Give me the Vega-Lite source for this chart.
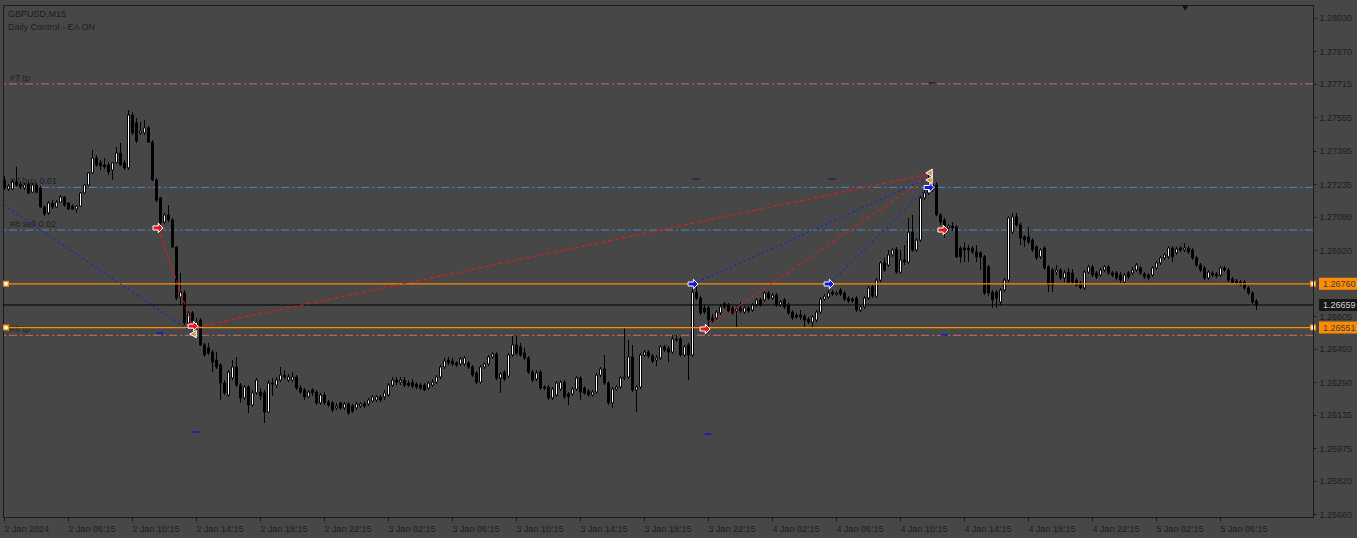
{
"$schema":"https://vega.github.io/schema/vega-lite/v6.json",
"width":1310,"height":512,
"autosize":{"type":"none"},
"padding":{"left":3,"top":5,"right":44,"bottom":21},
"background":"#474747",
"config":{"view":{"stroke":"#1c1c1c","strokeWidth":1},"font":"Liberation Sans","axis":{"labelFont":"Liberation Sans","labelFontSize":9,"labelColor":"#1e1e1e","domainColor":"#1c1c1c","tickColor":"#1c1c1c","grid":false}},
"datasets":{
"levels":[
{"name":"#7 tp","kind":"tp","p":1.27715},
{"name":"#7 buy 0.01","kind":"order","p":1.27221},
{"name":"#8 sell 0.02","kind":"order","p":1.27017},
{"name":"#8 tp","kind":"tp","p":1.26514},
{"name":"pending 1","kind":"pending","p":1.2676},
{"name":"pending 2","kind":"pending","p":1.26551},
{"name":"Bid","kind":"bid","p":1.26659}],
"trades":[
{"trade":"A","side":"buy","t":"2024-01-02T02:15","p":1.27136},
{"trade":"A","side":"buy","t":"2024-01-02T14:04","p":1.26525},
{"trade":"B","side":"sell","t":"2024-01-02T11:52:30","p":1.27027},
{"trade":"B","side":"sell","t":"2024-01-02T14:04","p":1.26549},
{"trade":"C","side":"sell","t":"2024-01-02T14:19","p":1.26554},
{"trade":"C","side":"sell","t":"2024-01-04T12:04","p":1.27285},
{"trade":"D","side":"buy","t":"2024-01-03T21:19","p":1.26759},
{"trade":"D","side":"buy","t":"2024-01-04T12:04","p":1.27266},
{"trade":"E","side":"sell","t":"2024-01-03T22:04","p":1.26544},
{"trade":"E","side":"sell","t":"2024-01-04T12:04","p":1.27275},
{"trade":"F","side":"buy","t":"2024-01-04T05:49","p":1.26759},
{"trade":"F","side":"buy","t":"2024-01-04T12:04","p":1.27227}],
"marks":[
{"t":"2024-01-02T11:52:30","p":1.27027,"kind":"sell"},
{"t":"2024-01-02T14:04","p":1.26558,"kind":"sell"},
{"t":"2024-01-03T21:19","p":1.26759,"kind":"buy"},
{"t":"2024-01-03T22:04","p":1.26544,"kind":"sell"},
{"t":"2024-01-04T05:49","p":1.26759,"kind":"buy"},
{"t":"2024-01-04T12:04","p":1.2722,"kind":"buy"},
{"t":"2024-01-04T12:56","p":1.27017,"kind":"sell"},
{"t":"2024-01-02T14:04","p":1.2652,"kind":"close"},
{"t":"2024-01-04T12:04","p":1.2729,"kind":"close"},
{"t":"2024-01-04T12:04","p":1.27256,"kind":"close"}],
"dashes":[
{"t":"2024-01-02T12:00","p":1.26525,"kind":"blue"},
{"t":"2024-01-02T14:15","p":1.26052,"kind":"blue"},
{"t":"2024-01-03T22:15","p":1.26042,"kind":"blue"},
{"t":"2024-01-04T13:00","p":1.26515,"kind":"blue"},
{"t":"2024-01-03T21:30","p":1.27261,"kind":"dark"},
{"t":"2024-01-04T06:00","p":1.27261,"kind":"dark"},
{"t":"2024-01-04T12:15","p":1.27719,"kind":"dark"}],
"candles":[
{"t":"2024-01-02T02:15","o":1.27256,"h":1.27275,"l":1.27208,"c":1.27218},
{"t":"2024-01-02T02:30","o":1.27213,"h":1.27237,"l":1.27203,"c":1.27227},
{"t":"2024-01-02T02:45","o":1.27213,"h":1.27256,"l":1.27208,"c":1.27246},
{"t":"2024-01-02T03:00","o":1.27246,"h":1.27319,"l":1.27223,"c":1.27232},
{"t":"2024-01-02T03:15","o":1.27237,"h":1.27251,"l":1.27213,"c":1.27223},
{"t":"2024-01-02T03:30","o":1.27218,"h":1.27242,"l":1.27208,"c":1.27232},
{"t":"2024-01-02T03:45","o":1.27237,"h":1.27246,"l":1.27189,"c":1.27194},
{"t":"2024-01-02T04:00","o":1.27198,"h":1.27242,"l":1.27194,"c":1.27232},
{"t":"2024-01-02T04:15","o":1.27232,"h":1.27242,"l":1.27194,"c":1.27198},
{"t":"2024-01-02T04:30","o":1.27218,"h":1.27227,"l":1.27122,"c":1.27127},
{"t":"2024-01-02T04:45","o":1.27127,"h":1.27136,"l":1.27084,"c":1.27094},
{"t":"2024-01-02T05:00","o":1.27099,"h":1.27155,"l":1.27089,"c":1.27146},
{"t":"2024-01-02T05:15","o":1.27146,"h":1.2716,"l":1.27117,"c":1.27127},
{"t":"2024-01-02T05:30","o":1.27127,"h":1.2716,"l":1.27122,"c":1.2715},
{"t":"2024-01-02T05:45","o":1.2715,"h":1.27184,"l":1.27146,"c":1.27175},
{"t":"2024-01-02T06:00","o":1.27175,"h":1.27179,"l":1.27127,"c":1.27136},
{"t":"2024-01-02T06:15","o":1.27146,"h":1.2715,"l":1.27113,"c":1.27117},
{"t":"2024-01-02T06:30","o":1.27131,"h":1.27141,"l":1.27113,"c":1.27117},
{"t":"2024-01-02T06:45","o":1.27117,"h":1.27136,"l":1.27099,"c":1.27131},
{"t":"2024-01-02T07:00","o":1.27131,"h":1.27198,"l":1.27127,"c":1.27194},
{"t":"2024-01-02T07:15","o":1.27194,"h":1.27237,"l":1.27189,"c":1.27232},
{"t":"2024-01-02T07:30","o":1.27232,"h":1.27294,"l":1.27227,"c":1.2729},
{"t":"2024-01-02T07:45","o":1.2729,"h":1.27399,"l":1.27285,"c":1.27361},
{"t":"2024-01-02T08:00","o":1.27361,"h":1.27375,"l":1.27319,"c":1.27328},
{"t":"2024-01-02T08:15","o":1.27338,"h":1.27352,"l":1.27304,"c":1.27323},
{"t":"2024-01-02T08:30","o":1.27328,"h":1.27361,"l":1.27309,"c":1.27319},
{"t":"2024-01-02T08:45","o":1.27328,"h":1.27342,"l":1.2728,"c":1.27294},
{"t":"2024-01-02T09:00","o":1.27304,"h":1.27342,"l":1.27256,"c":1.27338},
{"t":"2024-01-02T09:15","o":1.27338,"h":1.27414,"l":1.27333,"c":1.27385},
{"t":"2024-01-02T09:30","o":1.27385,"h":1.27433,"l":1.27323,"c":1.27328},
{"t":"2024-01-02T09:45","o":1.27338,"h":1.27352,"l":1.27304,"c":1.27314},
{"t":"2024-01-02T10:00","o":1.27314,"h":1.2759,"l":1.27304,"c":1.27566},
{"t":"2024-01-02T10:15","o":1.27566,"h":1.2758,"l":1.27471,"c":1.27481},
{"t":"2024-01-02T10:30","o":1.27529,"h":1.27552,"l":1.27433,"c":1.27442},
{"t":"2024-01-02T10:45","o":1.27481,"h":1.27533,"l":1.27471,"c":1.2749},
{"t":"2024-01-02T11:00","o":1.27481,"h":1.27543,"l":1.27471,"c":1.27505},
{"t":"2024-01-02T11:15","o":1.27505,"h":1.27514,"l":1.27433,"c":1.27437},
{"t":"2024-01-02T11:30","o":1.27437,"h":1.27447,"l":1.27251,"c":1.27256},
{"t":"2024-01-02T11:45","o":1.27256,"h":1.27266,"l":1.2715,"c":1.2716},
{"t":"2024-01-02T12:00","o":1.2717,"h":1.27175,"l":1.27041,"c":1.27051},
{"t":"2024-01-02T12:15","o":1.27055,"h":1.27099,"l":1.27046,"c":1.27089},
{"t":"2024-01-02T12:30","o":1.27089,"h":1.27136,"l":1.27055,"c":1.27065},
{"t":"2024-01-02T12:45","o":1.27065,"h":1.27075,"l":1.26931,"c":1.26936},
{"t":"2024-01-02T13:00","o":1.26936,"h":1.2694,"l":1.26683,"c":1.26692},
{"t":"2024-01-02T13:15","o":1.26697,"h":1.26812,"l":1.26659,"c":1.2672},
{"t":"2024-01-02T13:30","o":1.26716,"h":1.2673,"l":1.26563,"c":1.26573},
{"t":"2024-01-02T13:45","o":1.26573,"h":1.2663,"l":1.26563,"c":1.26621},
{"t":"2024-01-02T14:00","o":1.26621,"h":1.2663,"l":1.26539,"c":1.26554},
{"t":"2024-01-02T14:15","o":1.26554,"h":1.26597,"l":1.26544,"c":1.26577},
{"t":"2024-01-02T14:30","o":1.26587,"h":1.26597,"l":1.26463,"c":1.26468},
{"t":"2024-01-02T14:45","o":1.26468,"h":1.26478,"l":1.26411,"c":1.2642},
{"t":"2024-01-02T15:00","o":1.26454,"h":1.26478,"l":1.2642,"c":1.2643},
{"t":"2024-01-02T15:15","o":1.26434,"h":1.26444,"l":1.26338,"c":1.26386},
{"t":"2024-01-02T15:30","o":1.26396,"h":1.26434,"l":1.26353,"c":1.26363},
{"t":"2024-01-02T15:45","o":1.26372,"h":1.26382,"l":1.26205,"c":1.26286},
{"t":"2024-01-02T16:00","o":1.26286,"h":1.263,"l":1.26229,"c":1.26239},
{"t":"2024-01-02T16:15","o":1.26229,"h":1.26348,"l":1.2622,"c":1.26338},
{"t":"2024-01-02T16:30","o":1.2631,"h":1.26396,"l":1.263,"c":1.26363},
{"t":"2024-01-02T16:45","o":1.26363,"h":1.26411,"l":1.26267,"c":1.26276},
{"t":"2024-01-02T17:00","o":1.26276,"h":1.26286,"l":1.26191,"c":1.26215},
{"t":"2024-01-02T17:15","o":1.26215,"h":1.26276,"l":1.26205,"c":1.26267},
{"t":"2024-01-02T17:30","o":1.26267,"h":1.26276,"l":1.26143,"c":1.26181},
{"t":"2024-01-02T17:45","o":1.26181,"h":1.26253,"l":1.26172,"c":1.26239},
{"t":"2024-01-02T18:00","o":1.26239,"h":1.2631,"l":1.26229,"c":1.263},
{"t":"2024-01-02T18:15","o":1.26243,"h":1.26262,"l":1.26205,"c":1.26224},
{"t":"2024-01-02T18:30","o":1.26239,"h":1.26253,"l":1.26095,"c":1.26147},
{"t":"2024-01-02T18:45","o":1.26147,"h":1.263,"l":1.26143,"c":1.26286},
{"t":"2024-01-02T19:00","o":1.26286,"h":1.2631,"l":1.26224,"c":1.26281},
{"t":"2024-01-02T19:15","o":1.26276,"h":1.26315,"l":1.26262,"c":1.263},
{"t":"2024-01-02T19:30","o":1.263,"h":1.26363,"l":1.2629,"c":1.26324},
{"t":"2024-01-02T19:45","o":1.26324,"h":1.26348,"l":1.26305,"c":1.26315},
{"t":"2024-01-02T20:00","o":1.263,"h":1.26329,"l":1.2629,"c":1.26315},
{"t":"2024-01-02T20:15","o":1.263,"h":1.26338,"l":1.2629,"c":1.26315},
{"t":"2024-01-02T20:30","o":1.26315,"h":1.26324,"l":1.26253,"c":1.26262},
{"t":"2024-01-02T20:45","o":1.26262,"h":1.26276,"l":1.26234,"c":1.26243},
{"t":"2024-01-02T21:00","o":1.26253,"h":1.26262,"l":1.26205,"c":1.2622},
{"t":"2024-01-02T21:15","o":1.2622,"h":1.26253,"l":1.26215,"c":1.26243},
{"t":"2024-01-02T21:30","o":1.26253,"h":1.26262,"l":1.26224,"c":1.26239},
{"t":"2024-01-02T21:45","o":1.26243,"h":1.26253,"l":1.26181,"c":1.26191},
{"t":"2024-01-02T22:00","o":1.26191,"h":1.26239,"l":1.26181,"c":1.26229},
{"t":"2024-01-02T22:15","o":1.26229,"h":1.26243,"l":1.26181,"c":1.26191},
{"t":"2024-01-02T22:30","o":1.26195,"h":1.26205,"l":1.26172,"c":1.26181},
{"t":"2024-01-02T22:45","o":1.26191,"h":1.262,"l":1.26147,"c":1.26157},
{"t":"2024-01-02T23:00","o":1.26167,"h":1.26191,"l":1.26157,"c":1.26176},
{"t":"2024-01-02T23:15","o":1.26191,"h":1.26195,"l":1.26157,"c":1.26167},
{"t":"2024-01-02T23:30","o":1.26167,"h":1.26195,"l":1.26157,"c":1.26186},
{"t":"2024-01-02T23:45","o":1.26186,"h":1.26195,"l":1.26133,"c":1.26143},
{"t":"2024-01-03T00:00","o":1.26176,"h":1.26186,"l":1.26143,"c":1.26152},
{"t":"2024-01-03T00:15","o":1.26167,"h":1.26195,"l":1.26157,"c":1.26186},
{"t":"2024-01-03T00:30","o":1.26176,"h":1.26195,"l":1.26167,"c":1.26186},
{"t":"2024-01-03T00:45","o":1.26186,"h":1.262,"l":1.26167,"c":1.26176},
{"t":"2024-01-03T01:00","o":1.26186,"h":1.26215,"l":1.26176,"c":1.26205},
{"t":"2024-01-03T01:15","o":1.262,"h":1.26229,"l":1.26191,"c":1.2622},
{"t":"2024-01-03T01:30","o":1.26205,"h":1.26229,"l":1.26195,"c":1.2622},
{"t":"2024-01-03T01:45","o":1.2622,"h":1.26229,"l":1.26195,"c":1.26205},
{"t":"2024-01-03T02:00","o":1.2622,"h":1.26253,"l":1.26205,"c":1.26239},
{"t":"2024-01-03T02:15","o":1.26229,"h":1.26286,"l":1.2622,"c":1.26276},
{"t":"2024-01-03T02:30","o":1.26276,"h":1.26315,"l":1.26267,"c":1.263},
{"t":"2024-01-03T02:45","o":1.263,"h":1.26315,"l":1.26276,"c":1.2629},
{"t":"2024-01-03T03:00","o":1.2629,"h":1.26315,"l":1.26276,"c":1.263},
{"t":"2024-01-03T03:15","o":1.263,"h":1.26315,"l":1.26267,"c":1.26276},
{"t":"2024-01-03T03:30","o":1.26286,"h":1.263,"l":1.26267,"c":1.26276},
{"t":"2024-01-03T03:45","o":1.2629,"h":1.26305,"l":1.26262,"c":1.26271},
{"t":"2024-01-03T04:00","o":1.26281,"h":1.2629,"l":1.26257,"c":1.26267},
{"t":"2024-01-03T04:15","o":1.26276,"h":1.26286,"l":1.26253,"c":1.26262},
{"t":"2024-01-03T04:30","o":1.26276,"h":1.26286,"l":1.26248,"c":1.26253},
{"t":"2024-01-03T04:45","o":1.26262,"h":1.26295,"l":1.26253,"c":1.26286},
{"t":"2024-01-03T05:00","o":1.26276,"h":1.26305,"l":1.26267,"c":1.2629},
{"t":"2024-01-03T05:15","o":1.2629,"h":1.26324,"l":1.26281,"c":1.26315},
{"t":"2024-01-03T05:30","o":1.26315,"h":1.26372,"l":1.26305,"c":1.26363},
{"t":"2024-01-03T05:45","o":1.26363,"h":1.26406,"l":1.26353,"c":1.26391},
{"t":"2024-01-03T06:00","o":1.26396,"h":1.26411,"l":1.26372,"c":1.26382},
{"t":"2024-01-03T06:15","o":1.26391,"h":1.26406,"l":1.26367,"c":1.26377},
{"t":"2024-01-03T06:30","o":1.26382,"h":1.26391,"l":1.26363,"c":1.26372},
{"t":"2024-01-03T06:45","o":1.26377,"h":1.26411,"l":1.26367,"c":1.26401},
{"t":"2024-01-03T07:00","o":1.26377,"h":1.26415,"l":1.26367,"c":1.26406},
{"t":"2024-01-03T07:15","o":1.26382,"h":1.26391,"l":1.26353,"c":1.26363},
{"t":"2024-01-03T07:30","o":1.26363,"h":1.26372,"l":1.26315,"c":1.26324},
{"t":"2024-01-03T07:45","o":1.26334,"h":1.26343,"l":1.26281,"c":1.2629},
{"t":"2024-01-03T08:00","o":1.2629,"h":1.26372,"l":1.26281,"c":1.26363},
{"t":"2024-01-03T08:15","o":1.26363,"h":1.26386,"l":1.26353,"c":1.26377},
{"t":"2024-01-03T08:30","o":1.26377,"h":1.2642,"l":1.26367,"c":1.26411},
{"t":"2024-01-03T08:45","o":1.26411,"h":1.26434,"l":1.26401,"c":1.26425},
{"t":"2024-01-03T09:00","o":1.26425,"h":1.26434,"l":1.263,"c":1.2631},
{"t":"2024-01-03T09:15","o":1.2631,"h":1.26338,"l":1.26239,"c":1.26329},
{"t":"2024-01-03T09:30","o":1.26338,"h":1.26348,"l":1.26295,"c":1.26305},
{"t":"2024-01-03T09:45","o":1.26319,"h":1.2643,"l":1.2631,"c":1.2642},
{"t":"2024-01-03T10:00","o":1.2642,"h":1.2651,"l":1.26411,"c":1.26468},
{"t":"2024-01-03T10:15","o":1.26468,"h":1.26515,"l":1.2642,"c":1.2643},
{"t":"2024-01-03T10:30","o":1.26459,"h":1.26478,"l":1.26411,"c":1.2642},
{"t":"2024-01-03T10:45","o":1.2643,"h":1.26454,"l":1.26396,"c":1.26406},
{"t":"2024-01-03T11:00","o":1.26406,"h":1.26415,"l":1.26329,"c":1.26338},
{"t":"2024-01-03T11:15","o":1.26338,"h":1.26348,"l":1.2629,"c":1.263},
{"t":"2024-01-03T11:30","o":1.26305,"h":1.26348,"l":1.26295,"c":1.26334},
{"t":"2024-01-03T11:45","o":1.26338,"h":1.26348,"l":1.26253,"c":1.26262},
{"t":"2024-01-03T12:00","o":1.26267,"h":1.26276,"l":1.26253,"c":1.26262},
{"t":"2024-01-03T12:15","o":1.26267,"h":1.26276,"l":1.26205,"c":1.26215},
{"t":"2024-01-03T12:30","o":1.26215,"h":1.26267,"l":1.26205,"c":1.26257},
{"t":"2024-01-03T12:45","o":1.26229,"h":1.26295,"l":1.2622,"c":1.26286},
{"t":"2024-01-03T13:00","o":1.26257,"h":1.263,"l":1.26248,"c":1.2629},
{"t":"2024-01-03T13:15","o":1.2629,"h":1.263,"l":1.2621,"c":1.2622},
{"t":"2024-01-03T13:30","o":1.26234,"h":1.26243,"l":1.26181,"c":1.2622},
{"t":"2024-01-03T13:45","o":1.26234,"h":1.26267,"l":1.26224,"c":1.26257},
{"t":"2024-01-03T14:00","o":1.26257,"h":1.26319,"l":1.26248,"c":1.2631},
{"t":"2024-01-03T14:15","o":1.2631,"h":1.26319,"l":1.26205,"c":1.26243},
{"t":"2024-01-03T14:30","o":1.26262,"h":1.26271,"l":1.26229,"c":1.26239},
{"t":"2024-01-03T14:45","o":1.26248,"h":1.26257,"l":1.2622,"c":1.26229},
{"t":"2024-01-03T15:00","o":1.26229,"h":1.26253,"l":1.2622,"c":1.26243},
{"t":"2024-01-03T15:15","o":1.26243,"h":1.26334,"l":1.26234,"c":1.26324},
{"t":"2024-01-03T15:30","o":1.26324,"h":1.26363,"l":1.26315,"c":1.26353},
{"t":"2024-01-03T15:45","o":1.26353,"h":1.2642,"l":1.26276,"c":1.26286},
{"t":"2024-01-03T16:00","o":1.26286,"h":1.26295,"l":1.26181,"c":1.26191},
{"t":"2024-01-03T16:15","o":1.26191,"h":1.26267,"l":1.26167,"c":1.26257},
{"t":"2024-01-03T16:30","o":1.26257,"h":1.26276,"l":1.26248,"c":1.26267},
{"t":"2024-01-03T16:45","o":1.26267,"h":1.26319,"l":1.26257,"c":1.2631},
{"t":"2024-01-03T17:00","o":1.2631,"h":1.26554,"l":1.263,"c":1.26315},
{"t":"2024-01-03T17:15","o":1.26315,"h":1.26492,"l":1.26305,"c":1.26411},
{"t":"2024-01-03T17:30","o":1.26411,"h":1.26468,"l":1.26243,"c":1.26253},
{"t":"2024-01-03T17:45","o":1.26253,"h":1.26276,"l":1.26147,"c":1.26267},
{"t":"2024-01-03T18:00","o":1.26267,"h":1.2643,"l":1.26257,"c":1.2642},
{"t":"2024-01-03T18:15","o":1.2642,"h":1.26444,"l":1.26411,"c":1.26434},
{"t":"2024-01-03T18:30","o":1.26434,"h":1.26444,"l":1.26406,"c":1.26415},
{"t":"2024-01-03T18:45","o":1.26415,"h":1.26425,"l":1.26382,"c":1.26391},
{"t":"2024-01-03T19:00","o":1.26396,"h":1.2642,"l":1.26367,"c":1.26406},
{"t":"2024-01-03T19:15","o":1.26406,"h":1.26468,"l":1.26396,"c":1.26459},
{"t":"2024-01-03T19:30","o":1.26459,"h":1.26468,"l":1.26434,"c":1.26444},
{"t":"2024-01-03T19:45","o":1.26449,"h":1.26463,"l":1.26386,"c":1.26434},
{"t":"2024-01-03T20:00","o":1.26434,"h":1.26515,"l":1.26425,"c":1.26496},
{"t":"2024-01-03T20:15","o":1.26496,"h":1.26515,"l":1.26482,"c":1.26492},
{"t":"2024-01-03T20:30","o":1.26496,"h":1.26506,"l":1.26411,"c":1.2642},
{"t":"2024-01-03T20:45","o":1.2642,"h":1.26468,"l":1.26411,"c":1.26459},
{"t":"2024-01-03T21:00","o":1.26468,"h":1.26478,"l":1.263,"c":1.2642},
{"t":"2024-01-03T21:15","o":1.2642,"h":1.26745,"l":1.26411,"c":1.2672},
{"t":"2024-01-03T21:30","o":1.2672,"h":1.26745,"l":1.26683,"c":1.26692},
{"t":"2024-01-03T21:45","o":1.26692,"h":1.26701,"l":1.26611,"c":1.26621},
{"t":"2024-01-03T22:00","o":1.26645,"h":1.26659,"l":1.26616,"c":1.26625},
{"t":"2024-01-03T22:15","o":1.26645,"h":1.26654,"l":1.26549,"c":1.26587},
{"t":"2024-01-03T22:30","o":1.26597,"h":1.26616,"l":1.26573,"c":1.26582},
{"t":"2024-01-03T22:45","o":1.26597,"h":1.26635,"l":1.26587,"c":1.26625},
{"t":"2024-01-03T23:00","o":1.26621,"h":1.26664,"l":1.26611,"c":1.2665},
{"t":"2024-01-03T23:15","o":1.26664,"h":1.26673,"l":1.2664,"c":1.2665},
{"t":"2024-01-03T23:30","o":1.26659,"h":1.26669,"l":1.26621,"c":1.2663},
{"t":"2024-01-03T23:45","o":1.26645,"h":1.26654,"l":1.26611,"c":1.26621},
{"t":"2024-01-04T00:00","o":1.2663,"h":1.26654,"l":1.26549,"c":1.2664},
{"t":"2024-01-04T00:15","o":1.26645,"h":1.26673,"l":1.26621,"c":1.2663},
{"t":"2024-01-04T00:30","o":1.26625,"h":1.26654,"l":1.26616,"c":1.26645},
{"t":"2024-01-04T00:45","o":1.26645,"h":1.26654,"l":1.26621,"c":1.2663},
{"t":"2024-01-04T01:00","o":1.26635,"h":1.26669,"l":1.26625,"c":1.26659},
{"t":"2024-01-04T01:15","o":1.26659,"h":1.26692,"l":1.2665,"c":1.26683},
{"t":"2024-01-04T01:30","o":1.26683,"h":1.26692,"l":1.2665,"c":1.26659},
{"t":"2024-01-04T01:45","o":1.26683,"h":1.26725,"l":1.26673,"c":1.26716},
{"t":"2024-01-04T02:00","o":1.26716,"h":1.26725,"l":1.26683,"c":1.26692},
{"t":"2024-01-04T02:15","o":1.26692,"h":1.26716,"l":1.26683,"c":1.26706},
{"t":"2024-01-04T02:30","o":1.26706,"h":1.26716,"l":1.2665,"c":1.26659},
{"t":"2024-01-04T02:45","o":1.26659,"h":1.26683,"l":1.2665,"c":1.26673},
{"t":"2024-01-04T03:00","o":1.26683,"h":1.26692,"l":1.2664,"c":1.2665},
{"t":"2024-01-04T03:15","o":1.26659,"h":1.26669,"l":1.26611,"c":1.26621},
{"t":"2024-01-04T03:30","o":1.26625,"h":1.26635,"l":1.26587,"c":1.26597},
{"t":"2024-01-04T03:45","o":1.26611,"h":1.26621,"l":1.26592,"c":1.26602},
{"t":"2024-01-04T04:00","o":1.26611,"h":1.26635,"l":1.26587,"c":1.26602},
{"t":"2024-01-04T04:15","o":1.26606,"h":1.26616,"l":1.26554,"c":1.26587},
{"t":"2024-01-04T04:30","o":1.26592,"h":1.26602,"l":1.26568,"c":1.26577},
{"t":"2024-01-04T04:45","o":1.26577,"h":1.26611,"l":1.26554,"c":1.26602},
{"t":"2024-01-04T05:00","o":1.26587,"h":1.26635,"l":1.26577,"c":1.26625},
{"t":"2024-01-04T05:15","o":1.26625,"h":1.26697,"l":1.26616,"c":1.26687},
{"t":"2024-01-04T05:30","o":1.26687,"h":1.26711,"l":1.26678,"c":1.26701},
{"t":"2024-01-04T05:45","o":1.26697,"h":1.2673,"l":1.26687,"c":1.26716},
{"t":"2024-01-04T06:00","o":1.2672,"h":1.2673,"l":1.26701,"c":1.26711},
{"t":"2024-01-04T06:15","o":1.26711,"h":1.26725,"l":1.26701,"c":1.26716},
{"t":"2024-01-04T06:30","o":1.2673,"h":1.2674,"l":1.26701,"c":1.26711},
{"t":"2024-01-04T06:45","o":1.26716,"h":1.26725,"l":1.26678,"c":1.26687},
{"t":"2024-01-04T07:00","o":1.26692,"h":1.26701,"l":1.26669,"c":1.26678},
{"t":"2024-01-04T07:15","o":1.26687,"h":1.26697,"l":1.26669,"c":1.26678},
{"t":"2024-01-04T07:30","o":1.26692,"h":1.26701,"l":1.26625,"c":1.26635},
{"t":"2024-01-04T07:45","o":1.26635,"h":1.26659,"l":1.26625,"c":1.2665},
{"t":"2024-01-04T08:00","o":1.2665,"h":1.26701,"l":1.2664,"c":1.26692},
{"t":"2024-01-04T08:15","o":1.26692,"h":1.26749,"l":1.26683,"c":1.2674},
{"t":"2024-01-04T08:30","o":1.26745,"h":1.26754,"l":1.26692,"c":1.26701},
{"t":"2024-01-04T08:45","o":1.26701,"h":1.26788,"l":1.26692,"c":1.26778},
{"t":"2024-01-04T09:00","o":1.26778,"h":1.26869,"l":1.26768,"c":1.2686},
{"t":"2024-01-04T09:15","o":1.2686,"h":1.26884,"l":1.26816,"c":1.26826},
{"t":"2024-01-04T09:30","o":1.2685,"h":1.26922,"l":1.26841,"c":1.26898},
{"t":"2024-01-04T09:45","o":1.26898,"h":1.26931,"l":1.26889,"c":1.26922},
{"t":"2024-01-04T10:00","o":1.26926,"h":1.26936,"l":1.26807,"c":1.26816},
{"t":"2024-01-04T10:15","o":1.26816,"h":1.26922,"l":1.26807,"c":1.26874},
{"t":"2024-01-04T10:30","o":1.26874,"h":1.26945,"l":1.2685,"c":1.26864},
{"t":"2024-01-04T10:45","o":1.26864,"h":1.27075,"l":1.26855,"c":1.27007},
{"t":"2024-01-04T11:00","o":1.27007,"h":1.27089,"l":1.26912,"c":1.26922},
{"t":"2024-01-04T11:15","o":1.26922,"h":1.26979,"l":1.26912,"c":1.26969},
{"t":"2024-01-04T11:30","o":1.26969,"h":1.27179,"l":1.26959,"c":1.2717},
{"t":"2024-01-04T11:45","o":1.2717,"h":1.27218,"l":1.2716,"c":1.27194},
{"t":"2024-01-04T12:00","o":1.27194,"h":1.27294,"l":1.27184,"c":1.27223},
{"t":"2024-01-04T12:15","o":1.27208,"h":1.27256,"l":1.27198,"c":1.27237},
{"t":"2024-01-04T12:30","o":1.27232,"h":1.27246,"l":1.27084,"c":1.27089},
{"t":"2024-01-04T12:45","o":1.27089,"h":1.27099,"l":1.27041,"c":1.27055},
{"t":"2024-01-04T13:00","o":1.27065,"h":1.27075,"l":1.26979,"c":1.27017},
{"t":"2024-01-04T13:15","o":1.27027,"h":1.27046,"l":1.27012,"c":1.27036},
{"t":"2024-01-04T13:30","o":1.27036,"h":1.27055,"l":1.27012,"c":1.27027},
{"t":"2024-01-04T13:45","o":1.27032,"h":1.27041,"l":1.26884,"c":1.26889},
{"t":"2024-01-04T14:00","o":1.26931,"h":1.2694,"l":1.2686,"c":1.26889},
{"t":"2024-01-04T14:15","o":1.26931,"h":1.26959,"l":1.26864,"c":1.26922},
{"t":"2024-01-04T14:30","o":1.26931,"h":1.26945,"l":1.26864,"c":1.26922},
{"t":"2024-01-04T14:45","o":1.26931,"h":1.2694,"l":1.26903,"c":1.26912},
{"t":"2024-01-04T15:00","o":1.26912,"h":1.26945,"l":1.26864,"c":1.26889},
{"t":"2024-01-04T15:15","o":1.26908,"h":1.26917,"l":1.26826,"c":1.26889},
{"t":"2024-01-04T15:30","o":1.26889,"h":1.26898,"l":1.26706,"c":1.26716},
{"t":"2024-01-04T15:45","o":1.26841,"h":1.2685,"l":1.26701,"c":1.26716},
{"t":"2024-01-04T16:00","o":1.2672,"h":1.2673,"l":1.26645,"c":1.26683},
{"t":"2024-01-04T16:15","o":1.2672,"h":1.2673,"l":1.26645,"c":1.26692},
{"t":"2024-01-04T16:30","o":1.26673,"h":1.2674,"l":1.26659,"c":1.2673},
{"t":"2024-01-04T16:45","o":1.2673,"h":1.26788,"l":1.2672,"c":1.26778},
{"t":"2024-01-04T17:00","o":1.26778,"h":1.27084,"l":1.26768,"c":1.27075},
{"t":"2024-01-04T17:15","o":1.27007,"h":1.27099,"l":1.26998,"c":1.2708},
{"t":"2024-01-04T17:30","o":1.2708,"h":1.27099,"l":1.27032,"c":1.27041},
{"t":"2024-01-04T17:45","o":1.27041,"h":1.27051,"l":1.26945,"c":1.26979},
{"t":"2024-01-04T18:00","o":1.26984,"h":1.26993,"l":1.26936,"c":1.26969},
{"t":"2024-01-04T18:15","o":1.26984,"h":1.27032,"l":1.2695,"c":1.26959},
{"t":"2024-01-04T18:30","o":1.26969,"h":1.26979,"l":1.26912,"c":1.26922},
{"t":"2024-01-04T18:45","o":1.26936,"h":1.26945,"l":1.26874,"c":1.26884},
{"t":"2024-01-04T19:00","o":1.26889,"h":1.26931,"l":1.26879,"c":1.26922},
{"t":"2024-01-04T19:15","o":1.26931,"h":1.2694,"l":1.26826,"c":1.26836},
{"t":"2024-01-04T19:30","o":1.26841,"h":1.2685,"l":1.2672,"c":1.26754},
{"t":"2024-01-04T19:45","o":1.26826,"h":1.26836,"l":1.2672,"c":1.26754},
{"t":"2024-01-04T20:00","o":1.26816,"h":1.2685,"l":1.26802,"c":1.26826},
{"t":"2024-01-04T20:15","o":1.26826,"h":1.26836,"l":1.26778,"c":1.26788},
{"t":"2024-01-04T20:30","o":1.26788,"h":1.26826,"l":1.26768,"c":1.26812},
{"t":"2024-01-04T20:45","o":1.26816,"h":1.26836,"l":1.26759,"c":1.26768},
{"t":"2024-01-04T21:00","o":1.26812,"h":1.26831,"l":1.26759,"c":1.26768},
{"t":"2024-01-04T21:15","o":1.26778,"h":1.26788,"l":1.26745,"c":1.26754},
{"t":"2024-01-04T21:30","o":1.26764,"h":1.26773,"l":1.26735,"c":1.2674},
{"t":"2024-01-04T21:45","o":1.2674,"h":1.26826,"l":1.2673,"c":1.26816},
{"t":"2024-01-04T22:00","o":1.26816,"h":1.2685,"l":1.26807,"c":1.26841},
{"t":"2024-01-04T22:15","o":1.26841,"h":1.2685,"l":1.26793,"c":1.26802},
{"t":"2024-01-04T22:30","o":1.26812,"h":1.26821,"l":1.26783,"c":1.26793},
{"t":"2024-01-04T22:45","o":1.26802,"h":1.26836,"l":1.26793,"c":1.26826},
{"t":"2024-01-04T23:00","o":1.26826,"h":1.2685,"l":1.26816,"c":1.26841},
{"t":"2024-01-04T23:15","o":1.26841,"h":1.2685,"l":1.26802,"c":1.26812},
{"t":"2024-01-04T23:30","o":1.26812,"h":1.26821,"l":1.26793,"c":1.26802},
{"t":"2024-01-04T23:45","o":1.26812,"h":1.26821,"l":1.26778,"c":1.26788},
{"t":"2024-01-05T00:00","o":1.26802,"h":1.26816,"l":1.26764,"c":1.26778},
{"t":"2024-01-05T00:15","o":1.26768,"h":1.26812,"l":1.26759,"c":1.26802},
{"t":"2024-01-05T00:30","o":1.26812,"h":1.26821,"l":1.26783,"c":1.26793},
{"t":"2024-01-05T00:45","o":1.26812,"h":1.26841,"l":1.26802,"c":1.26826},
{"t":"2024-01-05T01:00","o":1.26826,"h":1.2686,"l":1.26816,"c":1.2685},
{"t":"2024-01-05T01:15","o":1.26836,"h":1.26845,"l":1.26802,"c":1.26812},
{"t":"2024-01-05T01:30","o":1.26807,"h":1.26816,"l":1.26783,"c":1.26793},
{"t":"2024-01-05T01:45","o":1.26802,"h":1.26812,"l":1.26778,"c":1.26788},
{"t":"2024-01-05T02:00","o":1.26802,"h":1.26845,"l":1.26793,"c":1.26836},
{"t":"2024-01-05T02:15","o":1.26836,"h":1.26869,"l":1.26826,"c":1.2686},
{"t":"2024-01-05T02:30","o":1.2686,"h":1.26893,"l":1.2685,"c":1.26884},
{"t":"2024-01-05T02:45","o":1.26884,"h":1.26908,"l":1.26874,"c":1.26898},
{"t":"2024-01-05T03:00","o":1.26889,"h":1.2694,"l":1.26879,"c":1.26931},
{"t":"2024-01-05T03:15","o":1.26931,"h":1.2694,"l":1.26864,"c":1.26889},
{"t":"2024-01-05T03:30","o":1.26908,"h":1.26936,"l":1.26898,"c":1.26926},
{"t":"2024-01-05T03:45","o":1.26931,"h":1.2694,"l":1.26912,"c":1.26922},
{"t":"2024-01-05T04:00","o":1.26922,"h":1.26955,"l":1.26912,"c":1.26931},
{"t":"2024-01-05T04:15","o":1.26931,"h":1.2694,"l":1.26903,"c":1.26912},
{"t":"2024-01-05T04:30","o":1.26922,"h":1.26931,"l":1.26874,"c":1.26884},
{"t":"2024-01-05T04:45","o":1.26884,"h":1.26893,"l":1.26841,"c":1.2685},
{"t":"2024-01-05T05:00","o":1.2685,"h":1.2686,"l":1.26816,"c":1.26826},
{"t":"2024-01-05T05:15","o":1.26836,"h":1.26845,"l":1.26778,"c":1.26788},
{"t":"2024-01-05T05:30","o":1.26788,"h":1.26826,"l":1.26778,"c":1.26816},
{"t":"2024-01-05T05:45","o":1.26812,"h":1.26821,"l":1.26793,"c":1.26802},
{"t":"2024-01-05T06:00","o":1.26807,"h":1.26816,"l":1.26788,"c":1.26797},
{"t":"2024-01-05T06:15","o":1.26802,"h":1.26845,"l":1.26793,"c":1.26836},
{"t":"2024-01-05T06:30","o":1.26836,"h":1.26845,"l":1.26816,"c":1.26826},
{"t":"2024-01-05T06:45","o":1.26826,"h":1.26836,"l":1.26768,"c":1.26778},
{"t":"2024-01-05T07:00","o":1.26783,"h":1.26793,"l":1.26759,"c":1.26768},
{"t":"2024-01-05T07:15","o":1.26773,"h":1.26783,"l":1.26754,"c":1.26764},
{"t":"2024-01-05T07:30","o":1.26768,"h":1.26778,"l":1.26749,"c":1.26759},
{"t":"2024-01-05T07:45","o":1.26768,"h":1.26778,"l":1.2673,"c":1.2674},
{"t":"2024-01-05T08:00","o":1.2674,"h":1.26749,"l":1.26706,"c":1.26716},
{"t":"2024-01-05T08:15","o":1.26716,"h":1.26725,"l":1.26664,"c":1.26673},
{"t":"2024-01-05T08:30","o":1.26678,"h":1.26687,"l":1.26635,"c":1.26659}]
},
"layer":[
{"data":{"name":"levels"},"transform":[{"filter":"datum.kind=='tp'"}],
 "mark":{"type":"rule","color":"#c86c6c","strokeWidth":1,"strokeDash":[8,3,2,3]},
 "encoding":{"y":{"field":"p","type":"quantitative"}}},
{"data":{"name":"levels"},"transform":[{"filter":"datum.kind=='order'"}],
 "mark":{"type":"rule","color":"#4a8ac4","strokeWidth":1,"strokeDash":[8,3,2,3]},
 "encoding":{"y":{"field":"p","type":"quantitative"}}},
{"data":{"name":"levels"},"transform":[{"filter":"datum.kind=='tp' || datum.kind=='order'"}],
 "mark":{"type":"text","align":"left","baseline":"bottom","dy":-1,"fontSize":9,"color":"#222222"},
 "encoding":{"x":{"datum":{"year":2024,"month":1,"date":2,"hours":2,"minutes":37,"seconds":30},"type":"temporal"},
  "y":{"field":"p","type":"quantitative"},"text":{"field":"name"}}},
{"data":{"name":"candles"},"mark":{"type":"rule","color":"#000000","strokeWidth":1,"xOffset":0.5},
 "encoding":{"x":{"field":"t","type":"temporal",
   "scale":{"domain":[{"year":2024,"month":1,"date":2,"hours":2,"minutes":11,"seconds":15},{"year":2024,"month":1,"date":5,"hours":12,"minutes":3,"seconds":45}],"nice":false,"padding":0},
   "axis":{"orient":"bottom","zindex":1,"tickCount":40,"values":[
    {"year":2024,"month":1,"date":2,"hours":2,"minutes":15},{"year":2024,"month":1,"date":2,"hours":6,"minutes":15},{"year":2024,"month":1,"date":2,"hours":10,"minutes":15},{"year":2024,"month":1,"date":2,"hours":14,"minutes":15},{"year":2024,"month":1,"date":2,"hours":18,"minutes":15},{"year":2024,"month":1,"date":2,"hours":22,"minutes":15},
    {"year":2024,"month":1,"date":3,"hours":2,"minutes":15},{"year":2024,"month":1,"date":3,"hours":6,"minutes":15},{"year":2024,"month":1,"date":3,"hours":10,"minutes":15},{"year":2024,"month":1,"date":3,"hours":14,"minutes":15},{"year":2024,"month":1,"date":3,"hours":18,"minutes":15},{"year":2024,"month":1,"date":3,"hours":22,"minutes":15},
    {"year":2024,"month":1,"date":4,"hours":2,"minutes":15},{"year":2024,"month":1,"date":4,"hours":6,"minutes":15},{"year":2024,"month":1,"date":4,"hours":10,"minutes":15},{"year":2024,"month":1,"date":4,"hours":14,"minutes":15},{"year":2024,"month":1,"date":4,"hours":18,"minutes":15},{"year":2024,"month":1,"date":4,"hours":22,"minutes":15},
    {"year":2024,"month":1,"date":5,"hours":2,"minutes":15},{"year":2024,"month":1,"date":5,"hours":6,"minutes":15}],
    "labelExpr":"timeFormat(datum.value, '%d %H:%M') == '02 02:15' ? '2 Jan 2024' : timeFormat(datum.value, '%-d %b %H:%M')",
    "labelAlign":"left","labelBaseline":"top","labelPadding":3,"tickSize":4,"labelOverlap":false,"labelFlush":false,"labelBound":false,"title":""}},
  "y":{"field":"l","type":"quantitative","scale":{"domain":[1.25646,1.28092],"zero":false,"nice":false,"padding":0},
  "axis":{"orient":"right","zindex":1,"tickCount":40,"values":[1.2803,1.2787,1.27715,1.27555,1.27395,1.27235,1.2708,1.2692,1.26605,1.2645,1.2629,1.26135,1.25975,1.2582,1.2566],"format":".5f","tickSize":3,"labelPadding":3,"labelOverlap":false,"labelFlush":false,"labelBound":false,"title":""}},
  "y2":{"field":"h"}}},
{"data":{"name":"candles"},"mark":{"type":"bar","size":2,"stroke":"#000000","strokeWidth":1,"xOffset":0.5},
 "encoding":{"x":{"field":"t","type":"temporal"},"y":{"field":"o","type":"quantitative"},"y2":{"field":"c"},
  "fill":{"condition":{"test":"datum.c >= datum.o","value":"#ffffff"},"value":"#000000"}}},
{"data":{"name":"levels"},"transform":[{"filter":"datum.kind=='bid'"}],
 "mark":{"type":"rule","color":"#000000","strokeWidth":1},
 "encoding":{"y":{"field":"p","type":"quantitative"}}},
{"data":{"name":"levels"},"transform":[{"filter":"datum.kind=='pending'"}],
 "mark":{"type":"rule","color":"#ff8c00","strokeWidth":1.3},
 "encoding":{"y":{"field":"p","type":"quantitative"}}},
{"data":{"name":"trades"},"transform":[{"filter":"datum.side=='sell'"}],
 "mark":{"type":"line","color":"#ff1010","strokeWidth":1,"strokeDash":[4,3]},
 "encoding":{"x":{"field":"t","type":"temporal"},"y":{"field":"p","type":"quantitative"},"detail":{"field":"trade"}}},
{"data":{"name":"trades"},"transform":[{"filter":"datum.side=='buy'"}],
 "mark":{"type":"line","color":"#1010ff","strokeWidth":1,"strokeDash":[2,3]},
 "encoding":{"x":{"field":"t","type":"temporal"},"y":{"field":"p","type":"quantitative"},"detail":{"field":"trade"}}},
{"data":{"name":"dashes"},
 "mark":{"type":"tick","orient":"horizontal","size":7,"thickness":2},
 "encoding":{"x":{"field":"t","type":"temporal"},"y":{"field":"p","type":"quantitative"},
  "color":{"condition":{"test":"datum.kind=='blue'","value":"#1010d8"},"value":"#1c1c40"}}},
{"data":{"name":"marks"},"transform":[{"filter":"datum.kind=='close'"}],
 "mark":{"type":"point","shape":"triangle-left","filled":true,"size":55,"fill":"#c99a4a","stroke":"#ffffff","strokeWidth":1,"opacity":1},
 "encoding":{"x":{"field":"t","type":"temporal"},"y":{"field":"p","type":"quantitative"}}},
{"data":{"name":"marks"},"transform":[{"filter":"datum.kind!='close'"}],
 "mark":{"type":"point","shape":"M-1,-0.4L0.05,-0.4L0.05,-0.95L1,0L0.05,0.95L0.05,0.4L-1,0.4Z","filled":true,"size":100,"stroke":"#ffffff","strokeWidth":1,"opacity":1},
 "encoding":{"x":{"field":"t","type":"temporal"},"y":{"field":"p","type":"quantitative"},
  "fill":{"condition":{"test":"datum.kind=='buy'","value":"#1414e6"},"value":"#ee1414"}}},
{"data":{"name":"levels"},"transform":[{"filter":"datum.kind=='pending'"}],
 "mark":{"type":"point","shape":"square","filled":true,"size":22,"fill":"#ffffff","stroke":"#ff8c00","strokeWidth":1.3,"opacity":1},
 "encoding":{"x":{"datum":{"year":2024,"month":1,"date":2,"hours":2,"minutes":22,"seconds":30},"type":"temporal"},"y":{"field":"p","type":"quantitative"}}},
{"data":{"name":"levels"},"transform":[{"filter":"datum.kind=='pending'"}],
 "mark":{"type":"point","shape":"square","filled":true,"size":22,"fill":"#ffffff","stroke":"#ff8c00","strokeWidth":1.3,"opacity":1},
 "encoding":{"x":{"datum":{"year":2024,"month":1,"date":5,"hours":12,"minutes":3,"seconds":45},"type":"temporal"},"y":{"field":"p","type":"quantitative"}}},
{"data":{"name":"levels"},"transform":[{"filter":"datum.kind=='pending' || datum.kind=='bid'"}],
 "mark":{"type":"point","shape":"M0.3,-0.3L2.3,-0.3L2.3,0.3L0.3,0.3Z","filled":true,"size":1600,"opacity":1},
 "encoding":{"x":{"datum":{"year":2024,"month":1,"date":5,"hours":12,"minutes":3,"seconds":45},"type":"temporal"},"y":{"field":"p","type":"quantitative"},
  "fill":{"condition":{"test":"datum.kind=='bid'","value":"#161616"},"value":"#ff8c00"}}},
{"data":{"name":"levels"},"transform":[{"filter":"datum.kind=='pending' || datum.kind=='bid'"}],
 "mark":{"type":"text","align":"left","baseline":"middle","dx":10,"fontSize":9},
 "encoding":{"x":{"datum":{"year":2024,"month":1,"date":5,"hours":12,"minutes":3,"seconds":45},"type":"temporal"},"y":{"field":"p","type":"quantitative"},
  "text":{"field":"p","type":"quantitative","format":".5f"},
  "color":{"condition":{"test":"datum.kind=='bid'","value":"#d0d0d0"},"value":"#3c3c3c"}}},
{"data":{"values":[{"label":"GBPUSD,M15"}]},
 "mark":{"type":"text","align":"left","baseline":"middle","fontSize":9,"color":"#1e1e1e"},
 "encoding":{"x":{"datum":{"year":2024,"month":1,"date":2,"hours":2,"minutes":30},"type":"temporal"},"y":{"datum":1.28049,"type":"quantitative"},"text":{"field":"label"}}},
{"data":{"values":[{"label":"Daily Control - EA ON"}]},
 "mark":{"type":"text","align":"left","baseline":"middle","fontSize":9,"color":"#1e1e1e"},
 "encoding":{"x":{"datum":{"year":2024,"month":1,"date":2,"hours":2,"minutes":30},"type":"temporal"},"y":{"datum":1.27987,"type":"quantitative"},"text":{"field":"label"}}},
{"data":{"values":[{"label":"shift"}]},
 "mark":{"type":"point","shape":"triangle-down","filled":true,"size":40,"color":"#111111","opacity":1},
 "encoding":{"x":{"datum":{"year":2024,"month":1,"date":5,"hours":4,"minutes":4},"type":"temporal"},"y":{"datum":1.28078,"type":"quantitative"}}}
]
}
